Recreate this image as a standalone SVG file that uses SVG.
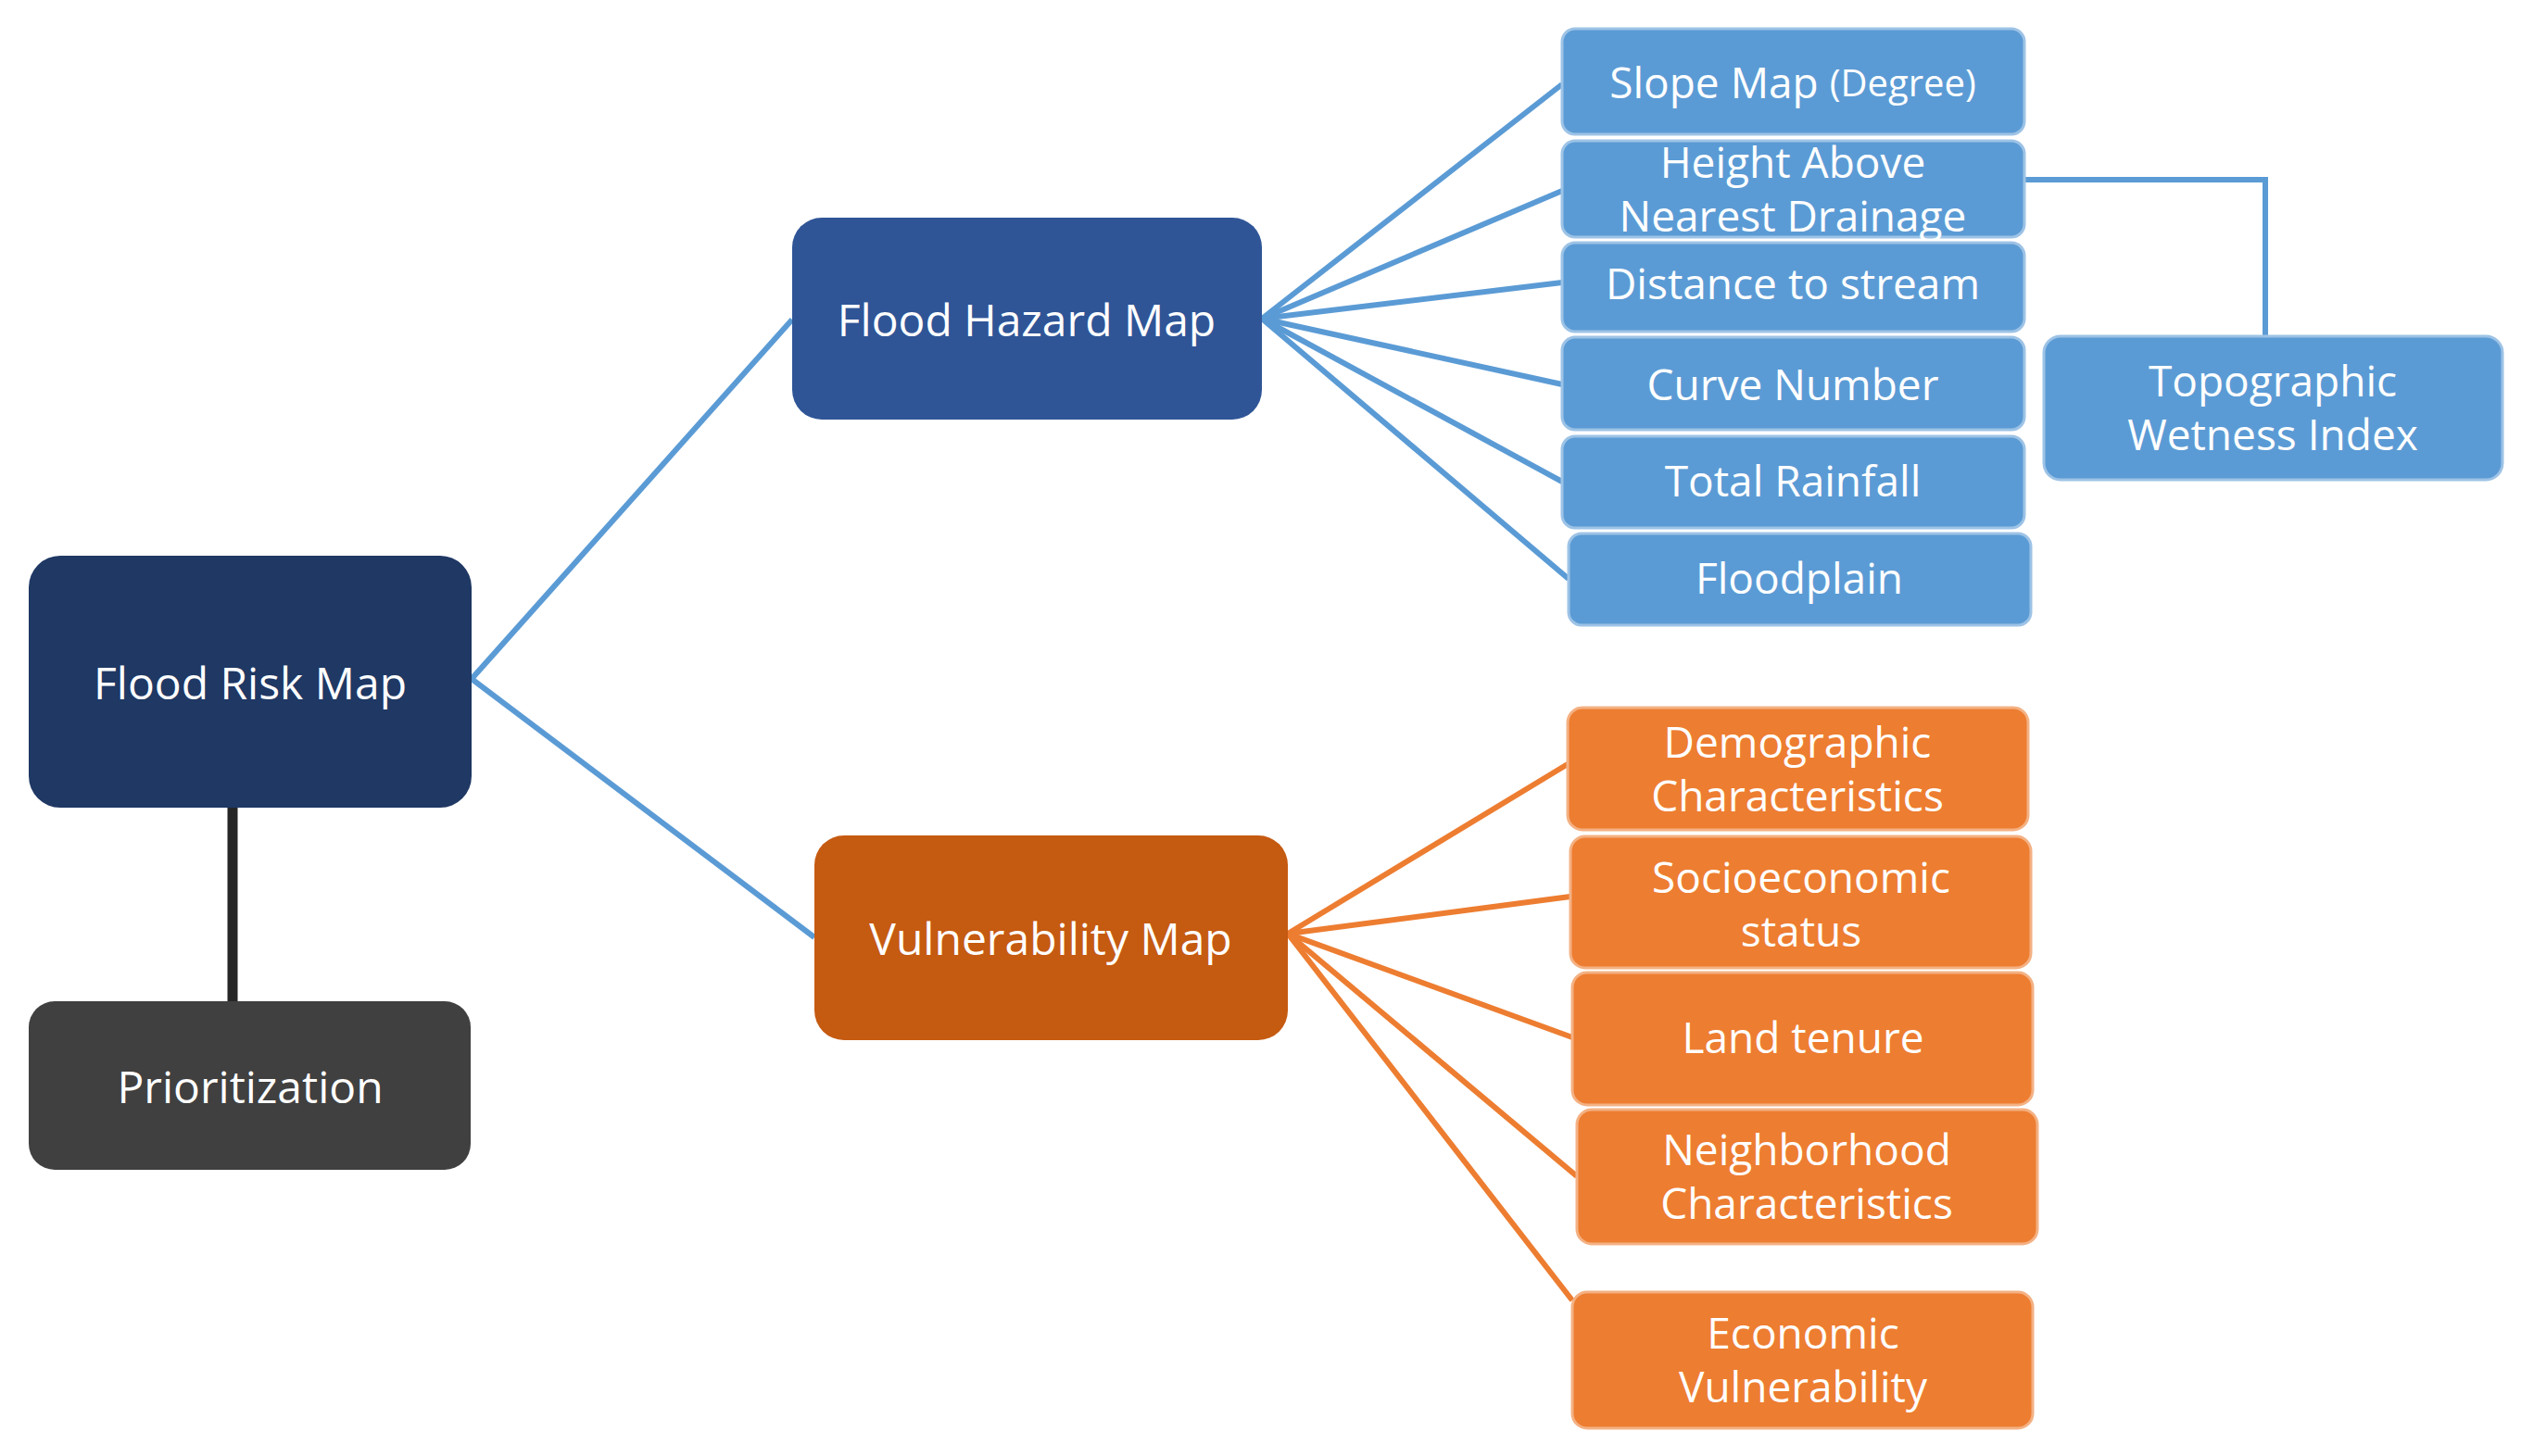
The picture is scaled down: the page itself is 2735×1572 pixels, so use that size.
<svg xmlns="http://www.w3.org/2000/svg" width="2735" height="1572" viewBox="0 0 2735 1572">
<style>
text{font-family:"Open Sans","Liberation Sans",sans-serif;fill:#fff;text-anchor:middle;dominant-baseline:central;font-size:46px}
.m{font-size:48px}
.b{fill:#5b9bd5;stroke:#9dc3e6;stroke-width:3}
.o{fill:#ed7d31;stroke:#f4b183;stroke-width:3}
.cb{stroke:#5b9bd5;stroke-width:6;fill:none}
.co{stroke:#ed7d31;stroke-width:6;fill:none}
</style>
<rect width="2735" height="1572" fill="#fff"/>
<g id="connectors">
<line class="cb" x1="509" y1="733" x2="855" y2="345"/>
<line class="cb" x1="509" y1="733" x2="879" y2="1012"/>
<line x1="251" y1="872" x2="251" y2="1081" stroke="#262626" stroke-width="11"/>
<line class="cb" x1="1362" y1="344" x2="1686" y2="91"/>
<line class="cb" x1="1362" y1="344" x2="1686" y2="206"/>
<line class="cb" x1="1362" y1="344" x2="1686" y2="305"/>
<line class="cb" x1="1362" y1="344" x2="1686" y2="415"/>
<line class="cb" x1="1362" y1="344" x2="1686" y2="520"/>
<line class="cb" x1="1362" y1="344" x2="1693" y2="625"/>
<polyline class="cb" points="2185,194 2445,194 2445,363"/>
<line class="co" x1="1390" y1="1008" x2="1692" y2="825"/>
<line class="co" x1="1390" y1="1008" x2="1695" y2="968"/>
<line class="co" x1="1390" y1="1008" x2="1697" y2="1120"/>
<line class="co" x1="1390" y1="1008" x2="1702" y2="1270"/>
<line class="co" x1="1390" y1="1008" x2="1697" y2="1404"/>
</g>
<g id="risk"><rect x="31" y="600" width="478" height="272" rx="34" fill="#1f3864"/><text class="m" x="270" y="736">Flood Risk Map</text></g>
<g id="prior"><rect x="31" y="1081" width="477" height="182" rx="28" fill="#404040"/><text class="m" x="270" y="1172">Prioritization</text></g>
<g id="hazard"><rect x="855" y="235" width="507" height="218" rx="32" fill="#2f5597"/><text class="m" x="1108" y="344">Flood Hazard Map</text></g>
<g id="vuln"><rect x="879" y="902" width="511" height="221" rx="32" fill="#c55a11"/><text class="m" x="1134" y="1012">Vulnerability Map</text></g>
<g id="slope"><rect class="b" x="1686" y="31" width="499" height="114" rx="14"/><text x="1935" y="88">Slope Map <tspan font-size="40">(Degree)</tspan></text></g>
<g id="hand"><rect class="b" x="1686" y="152" width="499" height="104" rx="14"/><text x="1935" y="174">Height Above</text><text x="1935" y="232">Nearest Drainage</text></g>
<g id="dist"><rect class="b" x="1686" y="262" width="499" height="96" rx="14"/><text x="1935" y="305">Distance to stream</text></g>
<g id="curve"><rect class="b" x="1686" y="364" width="499" height="100" rx="14"/><text x="1935" y="414">Curve Number</text></g>
<g id="rain"><rect class="b" x="1686" y="471" width="499" height="99" rx="14"/><text x="1935" y="518">Total Rainfall</text></g>
<g id="flood"><rect class="b" x="1693" y="576" width="499" height="99" rx="14"/><text x="1942" y="623">Floodplain</text></g>
<g id="twi"><rect class="b" x="2206" y="363" width="495" height="155" rx="18"/><text x="2453" y="410">Topographic</text><text x="2453" y="468">Wetness Index</text></g>
<g id="demo"><rect class="o" x="1692" y="764" width="497" height="132" rx="16"/><text x="1940" y="800">Demographic</text><text x="1940" y="858">Characteristics</text></g>
<g id="socio"><rect class="o" x="1695" y="903" width="497" height="142" rx="16"/><text x="1944" y="946">Socioeconomic</text><text x="1944" y="1004">status</text></g>
<g id="land"><rect class="o" x="1697" y="1050" width="497" height="143" rx="16"/><text x="1946" y="1119">Land tenure</text></g>
<g id="neigh"><rect class="o" x="1702" y="1198" width="497" height="145" rx="16"/><text x="1950" y="1240">Neighborhood</text><text x="1950" y="1298">Characteristics</text></g>
<g id="econ"><rect class="o" x="1697" y="1395" width="497" height="147" rx="16"/><text x="1946" y="1438">Economic</text><text x="1946" y="1496">Vulnerability</text></g>
</svg>
